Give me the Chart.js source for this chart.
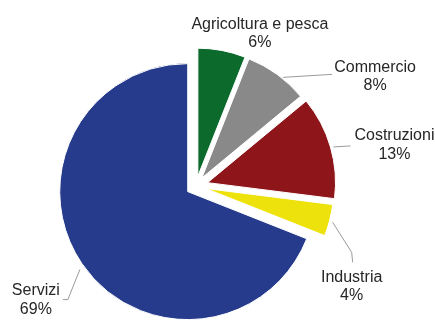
<!DOCTYPE html>
<html>
<head>
<meta charset="utf-8">
<script src="https://cdn.jsdelivr.net/npm/chart.js@4"></script>
<style>
  body { margin: 0; background: #fff; }
  canvas { display: block; }
</style>
</head>
<body>
<canvas id="torta" width="435" height="320"></canvas>
<script>
// Ripartizione per settore (%)
const settori = ['Agricoltura e pesca', 'Commercio', 'Costruzioni', 'Industria', 'Servizi'];
const quote = [6, 8, 13, 4, 69];
const colori = ['#0b6a2c', '#898989', '#8e1519', '#eee20c', '#263b8c'];

// Fette staccate (spostamento rigido lungo la bisettrice, senza cambiare raggio)
// ed etichette con linee di richiamo agganciate al bordo esterno di ogni fetta
const tortaPlugin = {
  id: 'torta',
  beforeDatasetDraw(chart, args, opts) {
    args.meta.data.forEach((arc, i) => {
      const mid = (arc.startAngle + arc.endAngle) / 2;
      const t = opts.esplosione[i];
      arc._cx = arc.x;
      arc._cy = arc.y;
      arc.x += Math.cos(mid) * t;
      arc.y += Math.sin(mid) * t;
    });
  },
  afterDatasetDraw(chart, args) {
    args.meta.data.forEach(arc => {
      arc.x = arc._cx;
      arc.y = arc._cy;
    });
  },
  afterDatasetsDraw(chart, args, opts) {
    const ctx = chart.ctx;
    const meta = chart.getDatasetMeta(0);
    ctx.save();
    ctx.font = '16px "Liberation Sans", Arial, sans-serif';
    ctx.textAlign = 'center';
    ctx.textBaseline = 'middle';
    meta.data.forEach((arc, i) => {
      const mid = (arc.startAngle + arc.endAngle) / 2;
      const r = arc.outerRadius + opts.esplosione[i];
      const ax = arc.x + Math.cos(mid) * r;
      const ay = arc.y + Math.sin(mid) * r;
      const cfg = opts.posizioni[i];
      if (cfg.linea.length) {
        ctx.strokeStyle = '#9a9a9a';
        ctx.lineWidth = 1;
        ctx.beginPath();
        ctx.moveTo(ax + cfg.linea[0][0], ay + cfg.linea[0][1]);
        cfg.linea.slice(1).forEach(pt => ctx.lineTo(ax + pt[0], ay + pt[1]));
        ctx.stroke();
      }
      ctx.fillStyle = '#262626';
      ctx.fillText(settori[i], ax + cfg.testo[0], ay + cfg.testo[1]);
      ctx.fillText(quote[i] + '%', ax + cfg.testo[0], ay + cfg.testo[1] + 18.5);
    });
    ctx.restore();
  }
};

new Chart(document.getElementById('torta'), {
  type: 'pie',
  data: {
    labels: settori,
    datasets: [{
      data: quote,
      backgroundColor: colori,
      borderColor: '#ffffff',
      borderWidth: 1
    }]
  },
  options: {
    responsive: false,
    animation: false,
    radius: 128,
    layout: { padding: { left: 0, right: 43, top: 52, bottom: 0 } },
    plugins: {
      legend: { display: false },
      tooltip: { enabled: false },
      torta: {
        esplosione: [10, 10, 12, 10, 10],
        posizioni: [
          { linea: [], testo: [38, -26] },
          { linea: [[6, 3], [55, 0]], testo: [98, -7] },
          { linea: [[3, 0], [20, -1]], testo: [64, -11] },
          { linea: [[3, 2], [22, 32], [23, 42]], testo: [22, 57] },
          { linea: [[-2, 6], [-14, 36], [-19, 36]], testo: [-46, 27.5] }
        ]
      }
    }
  },
  plugins: [tortaPlugin]
});
</script>
</body>
</html>
